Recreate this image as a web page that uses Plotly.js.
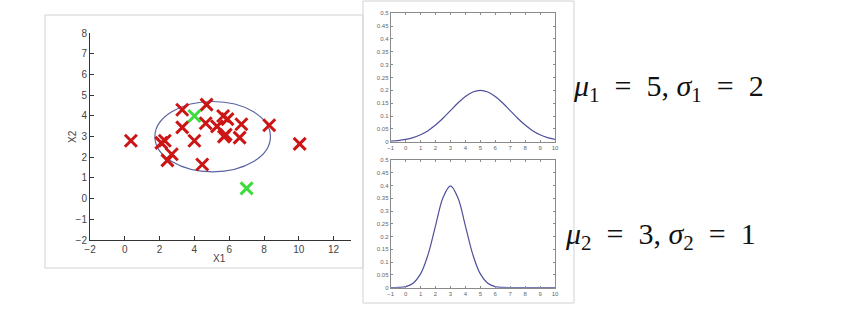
<!DOCTYPE html>
<html>
<head>
<meta charset="utf-8">
<script src="https://cdn.plot.ly/plotly-3.0.1.min.js"></script>
<style>html,body{margin:0;padding:0;background:#fff;}#chart{width:853px;height:312px;}</style>
</head>
<body>
<div id="chart"></div>
<script>
// ---- Data ----
// Scatter (left panel)
const redX = [0.35, 2.1, 2.3, 2.7, 2.45, 3.3, 3.3, 4.0, 4.45, 4.7, 4.65, 5.3, 5.65, 5.9, 5.7, 5.8, 6.6, 6.7, 8.3, 10.05];
const redY = [2.8, 2.7, 2.8, 2.15, 1.85, 4.3, 3.45, 2.8, 1.65, 4.55, 3.65, 3.5, 4.0, 3.85, 3.0, 3.1, 2.95, 3.6, 3.55, 2.65];
const greenX = [4.0, 7.0];
const greenY = [4.0, 0.5];
// Ellipse (center x, center y) and (radius x, radius y)
const ellipseCenter = [5.05, 3.0];
const ellipseRadii = [3.32, 1.7];

// Density curves (right panels), read at half-unit steps
const curveX = [-1, -0.5, 0, 0.5, 1, 1.5, 2, 2.5, 3, 3.5, 4, 4.5, 5, 5.5, 6, 6.5, 7, 7.5, 8, 8.5, 9, 9.5, 10];
const curve1Y = [0.0022, 0.0045, 0.0088, 0.0159, 0.0270, 0.0431, 0.0648, 0.0913, 0.1210, 0.1506, 0.1760, 0.1933, 0.1995,
                 0.1933, 0.1760, 0.1506, 0.1210, 0.0913, 0.0648, 0.0431, 0.0270, 0.0159, 0.0088];
const curve2Y = [0.0001, 0.0009, 0.0044, 0.0175, 0.0540, 0.1295, 0.2420, 0.3521, 0.3989, 0.3521, 0.2420, 0.1295, 0.0540,
                 0.0175, 0.0044, 0.0009, 0.0001, 0, 0, 0, 0, 0, 0];

// Tick labels
const scatterXTicks = [-2, 0, 2, 4, 6, 8, 10, 12];
const scatterYTicks = [-2, -1, 0, 1, 2, 3, 4, 5, 6, 7, 8];
const pdfXTicks = [-1, 0, 1, 2, 3, 4, 5, 6, 7, 8, 9, 10];
const pdfYTicks = [0, 0.05, 0.1, 0.15, 0.2, 0.25, 0.3, 0.35, 0.4, 0.45, 0.5];
const pdfYTickText = ['0', '0.05', '0.1', '0.15', '0.2', '0.25', '0.3', '0.35', '0.4', '0.45', '0.5'];

// Labels
const xTitle = 'X1';
const yTitle = 'X2';
const EQ = '\u2002=\u2002';
const label1 = '<i>μ</i><sub>1</sub>' + EQ + '5, <i>σ</i><sub>1</sub>' + EQ + '2';
const label2 = '<i>μ</i><sub>2</sub>' + EQ + '3, <i>σ</i><sub>2</sub>' + EQ + '1';

// ---- Drawing ----
const W = 853, H = 312;
const px = v => v / W;
const py = v => 1 - v / H;

const sans = 'Liberation Sans, Arial, sans-serif';
const serif = 'Liberation Serif, Times New Roman, serif';
const curveColor = '#4f4f9c';

const traces = [
  {x: redX, y: redY, xaxis: 'x', yaxis: 'y', type: 'scatter', mode: 'markers',
   marker: {symbol: 'x-thin', size: 12, line: {color: '#cc1515', width: 3}}, hoverinfo: 'x+y'},
  {x: greenX, y: greenY, xaxis: 'x', yaxis: 'y', type: 'scatter', mode: 'markers',
   marker: {symbol: 'x-thin', size: 12, line: {color: '#3ddc3d', width: 3}}, hoverinfo: 'x+y'},
  {x: curveX, y: curve1Y, xaxis: 'x2', yaxis: 'y2', type: 'scatter', mode: 'lines',
   line: {color: curveColor, width: 1.2, shape: 'spline'}},
  {x: curveX, y: curve2Y, xaxis: 'x3', yaxis: 'y3', type: 'scatter', mode: 'lines',
   line: {color: curveColor, width: 1.2, shape: 'spline'}}
];

const smallAxis = {
  showline: true, linecolor: '#8a8a8a', linewidth: 1, mirror: 'ticks',
  ticks: 'inside', ticklen: 2, tickcolor: '#8a8a8a', tickwidth: 1,
  showgrid: false, zeroline: false,
  tickfont: {family: sans, size: 6, color: '#666'}
};

const layout = {
  width: W, height: H,
  margin: {l: 0, r: 0, t: 0, b: 0},
  paper_bgcolor: '#ffffff', plot_bgcolor: 'rgba(0,0,0,0)',
  showlegend: false,
  xaxis: {domain: [px(90), px(351)], range: [-2, 13], anchor: 'y',
          tickvals: scatterXTicks, ticks: 'inside', ticklen: 4, tickcolor: '#333',
          showline: true, linecolor: '#333', linewidth: 1, showgrid: false, zeroline: false,
          tickfont: {family: sans, size: 10, color: '#444'}},
  yaxis: {domain: [py(240), py(33.3)], range: [-2, 8], anchor: 'x',
          tickvals: scatterYTicks, ticks: 'inside', ticklen: 4, tickcolor: '#333',
          showline: true, linecolor: '#333', linewidth: 1, showgrid: false, zeroline: false,
          tickfont: {family: sans, size: 10, color: '#444'}},
  xaxis2: Object.assign({}, smallAxis, {domain: [px(390.7), px(555)], range: [-1, 10], anchor: 'y2', tickvals: pdfXTicks}),
  yaxis2: Object.assign({}, smallAxis, {domain: [py(141.7), py(13.3)], range: [0, 0.5], anchor: 'x2', tickvals: pdfYTicks, ticktext: pdfYTickText}),
  xaxis3: Object.assign({}, smallAxis, {domain: [px(390.7), px(555)], range: [-1, 10], anchor: 'y3', tickvals: pdfXTicks}),
  yaxis3: Object.assign({}, smallAxis, {domain: [py(287.7), py(160)], range: [0, 0.5], anchor: 'x3', tickvals: pdfYTicks, ticktext: pdfYTickText}),
  shapes: [
    {type: 'rect', xref: 'paper', yref: 'paper', x0: px(45), x1: px(363), y0: py(268), y1: py(15),
     line: {color: '#d2d2d2', width: 1}, fillcolor: 'rgba(0,0,0,0)', layer: 'below'},
    {type: 'rect', xref: 'paper', yref: 'paper', x0: px(363), x1: px(574), y0: py(303), y1: py(1),
     line: {color: '#d2d2d2', width: 1}, fillcolor: 'rgba(0,0,0,0)', layer: 'below'},
    {type: 'circle', xref: 'x', yref: 'y',
     x0: ellipseCenter[0] - ellipseRadii[0], x1: ellipseCenter[0] + ellipseRadii[0],
     y0: ellipseCenter[1] - ellipseRadii[1], y1: ellipseCenter[1] + ellipseRadii[1],
     line: {color: '#5a63a3', width: 1.2}, layer: 'below'}
  ],
  annotations: [
    {text: xTitle, xref: 'paper', yref: 'paper', x: px(220), y: py(258), xanchor: 'center', yanchor: 'middle',
     showarrow: false, font: {family: sans, size: 10, color: '#444'}},
    {text: yTitle, xref: 'paper', yref: 'paper', x: px(72), y: py(137), xanchor: 'center', yanchor: 'middle',
     textangle: -90, showarrow: false, font: {family: sans, size: 10, color: '#444'}},
    {text: label1, xref: 'paper', yref: 'paper', x: px(571), y: py(88), xanchor: 'left', yanchor: 'middle',
     showarrow: false, font: {family: serif, size: 30, color: '#111'}},
    {text: label2, xref: 'paper', yref: 'paper', x: px(563), y: py(236), xanchor: 'left', yanchor: 'middle',
     showarrow: false, font: {family: serif, size: 30, color: '#111'}}
  ]
};

Plotly.newPlot('chart', traces, layout, {displayModeBar: false, staticPlot: true});
</script>
</body>
</html>
